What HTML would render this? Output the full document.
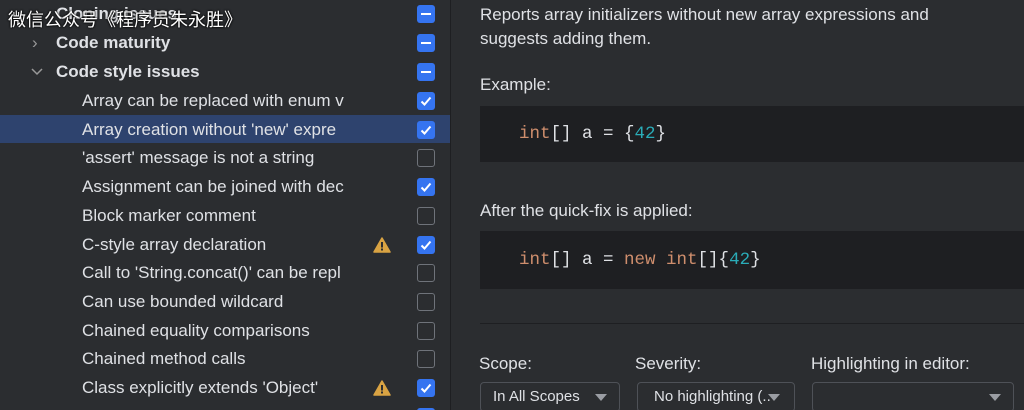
<!DOCTYPE html>
<html style="width:1024px;height:410px;overflow:hidden"><head><meta charset="utf-8"><style>
body{margin:0;width:1024px;height:410px;overflow:hidden;background:#2b2d30;font-family:"Liberation Sans","Noto Sans CJK SC",sans-serif;color:#dfe1e5;position:relative}
.a{position:absolute;white-space:nowrap}
.row{position:absolute;left:0;width:450px;height:28px;font-size:17px;line-height:28px}
.cb{position:absolute;left:417px;top:5px;width:18px;height:18px;border-radius:3px;box-sizing:border-box}
.on{background:#3574f0}
.off{border:1.5px solid #6f737a}
.cb svg{position:absolute;left:0;top:0}
.code{position:absolute;left:480px;width:544px;background:#1e1f22;font-family:"Liberation Mono",monospace;font-size:17.5px}
.k{color:#cf8e6d}.n{color:#2aacb8}
.dd{position:absolute;top:382px;height:30px;border:1px solid #4e5157;border-radius:4px;box-sizing:border-box;font-size:15px;line-height:28px;padding-left:12px}
.tri{position:absolute;width:0;height:0;border-left:6px solid transparent;border-right:6px solid transparent;border-top:7px solid #9a9da3;top:11px}
</style></head><body>
<div class="row" style="top:115px;background:#2e436e"></div>
<div class="a" style="left:450px;top:0;width:1px;height:410px;background:#1e1f22"></div>

<div class="row" style="top:0"><span class="a" style="left:56px;font-weight:bold;top:0">Cloning issues</span><div class="cb on"><div style="position:absolute;left:4px;top:8px;width:10px;height:2px;background:#fff"></div></div></div>
<div class="row" style="top:29px"><span class="a" style="left:32px;color:#999">›</span><span class="a" style="left:56px;font-weight:bold">Code maturity</span><div class="cb on"><div style="position:absolute;left:4px;top:8px;width:10px;height:2px;background:#fff"></div></div></div>
<div class="row" style="top:58px"><svg class="a" style="left:31px;top:10px" width="12" height="8"><path d="M1 1l5 5 5-5" stroke="#999" stroke-width="1.5" fill="none"/></svg><span class="a" style="left:56px;font-weight:bold">Code style issues</span><div class="cb on"><div style="position:absolute;left:4px;top:8px;width:10px;height:2px;background:#fff"></div></div></div>

<div class="a" style="left:8px;top:6px;font-size:18px;color:#fff;text-shadow:0 0 2px #000,0 0 2px #000">微信公众号《程序员朱永胜》</div>

<div id="items"></div>
<script>
var it=[["Array can be replaced with enum v",1,0],["Array creation without 'new' expre",1,0],["'assert' message is not a string",0,0],["Assignment can be joined with dec",1,0],["Block marker comment",0,0],["C-style array declaration",1,1],["Call to 'String.concat()' can be repl",0,0],["Can use bounded wildcard",0,0],["Chained equality comparisons",0,0],["Chained method calls",0,0],["Class explicitly extends 'Object'",1,1],["Code block can be simplified",1,0]];
var h="";it.forEach(function(r,i){var t=87+i*28.7;
h+='<div class="row" style="top:'+t+'px"><span class="a" style="left:82px;width:287px;overflow:hidden">'+r[0]+'</span>'+(r[2]?'<svg class="a" style="left:373px;top:6px" width="18" height="16"><path d="M9 1L17 15H1Z" fill="#d9a343" stroke="#d9a343" stroke-linejoin="round" stroke-width="1.5"/><rect x="8" y="5" width="2" height="5.5" fill="#2b2d30"/><rect x="8" y="11.5" width="2" height="2" fill="#2b2d30"/></svg>':'')+'<div class="cb '+(r[1]?'on':'off')+'">'+(r[1]?'<svg width="18" height="18"><path d="M4.5 9.5l3 3 6-7" stroke="#fff" stroke-width="2" fill="none"/></svg>':'')+'</div></div>';});
document.getElementById("items").innerHTML=h;
</script>

<div class="a" style="left:480px;top:3px;font-size:17px;line-height:24px">Reports array initializers without new array expressions and<br>suggests adding them.</div>
<div class="a" style="left:480px;top:75px;font-size:17px">Example:</div>
<div class="code" style="top:106px;height:56px"><span class="a" style="left:39px;top:18px"><span class="k">int</span>[] a = {<span class="n">42</span>}</span></div>
<div class="a" style="left:480px;top:201px;font-size:17px">After the quick-fix is applied:</div>
<div class="code" style="top:231px;height:58px"><span class="a" style="left:39px;top:19px"><span class="k">int</span>[] a = <span class="k">new int</span>[]{<span class="n">42</span>}</span></div>
<div class="a" style="left:480px;top:323px;width:544px;height:1px;background:#1e1f22"></div>
<div class="a" style="left:479px;top:354px;font-size:17px">Scope:</div>
<div class="a" style="left:635px;top:354px;font-size:17px">Severity:</div>
<div class="a" style="left:811px;top:354px;font-size:17px">Highlighting in editor:</div>
<div class="dd" style="left:480px;width:140px">In All Scopes<div class="tri" style="left:114px"></div></div>
<div class="dd" style="left:637px;width:158px;padding-left:16px">No highlighting (..<div class="tri" style="left:130px"></div></div>
<div class="dd" style="left:812px;width:202px"><div class="tri" style="left:176px"></div></div>
</body></html>
